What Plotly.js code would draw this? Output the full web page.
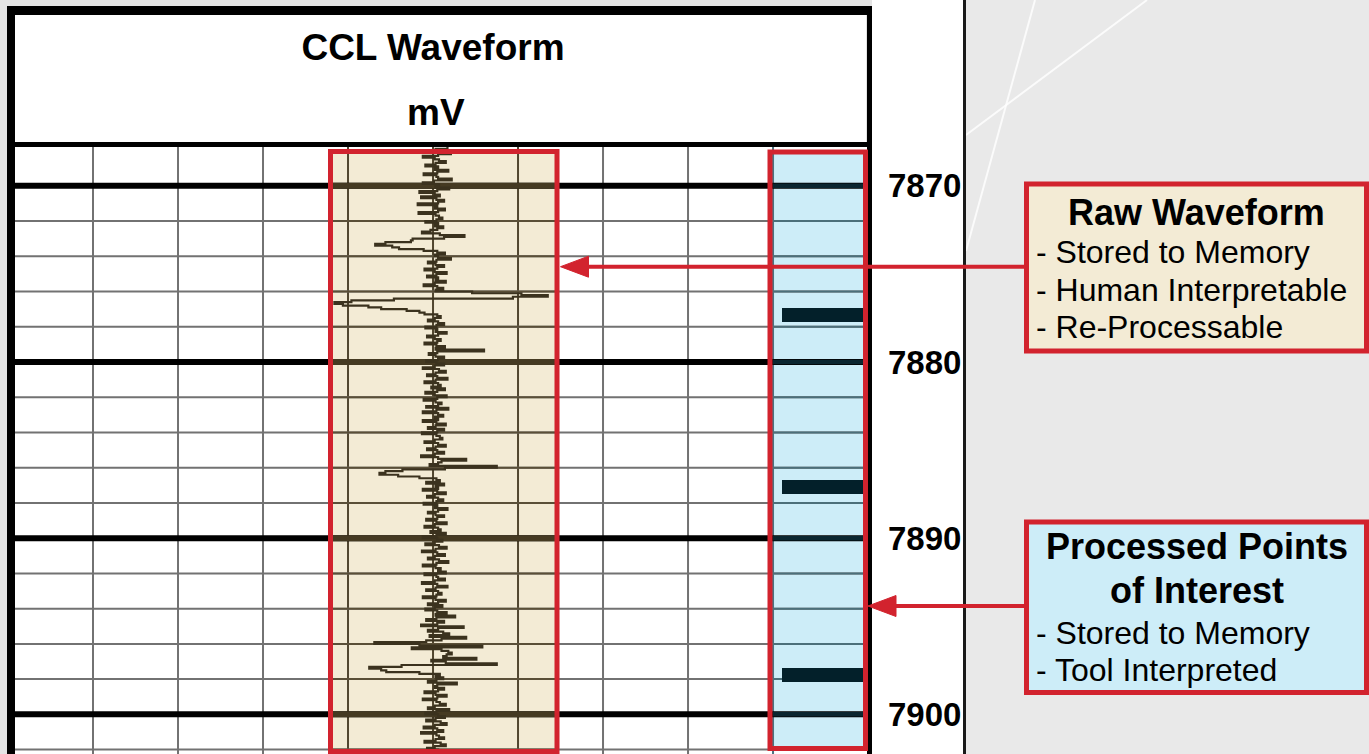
<!DOCTYPE html>
<html>
<head>
<meta charset="utf-8">
<script src="https://cdn.plot.ly/plotly-3.0.1.min.js"></script>
<style>html,body{margin:0;padding:0;background:#e4e4e4;}#chart{width:1369px;height:754px;}</style>
</head>
<body>
<div id="chart"></div>
<script>
// ---------------- data ----------------
const depthTop = 7867.8;      // ft, first CCL sample
const depthStep = 0.1;        // ft, sample interval
// CCL waveform, mV, one value per sample (read from the log)
const cclMv = [
 1.7, 0.3,
 0.5, 2.1, 0.6,-1.2, 0.2, 0.7, 1.5, 0.3,-0.9, 0.6,
 0.2, 1.8, 0.5,-1.1, 0.4, 0.6, 2.2, 0.1,-1.2, 0.7,
 0.3, 1.9, 0.5,-1.6, 0.2, 0.8,-1.4, 0.4, 1.3, 0.6,
-1.8, 0.5, 0.2, 1.4, 0.6,-1.7, 0.3, 0.7, 1.1, 0.4,
-0.9, 0.6, 0.2, 1.2, 0.5,-0.3,-1.3, 0.8, 3.7, 1.3,
-2.4,-2.6,-5.6,-6.8,-4.8,-4.0,-1.1, 0.5, 1.4, 0.2,
 0.6, 2.1, 0.4,-0.6, 0.3, 1.3, 0.5,-1.0, 0.2, 1.6,
 0.4,-0.7, 0.6, 0.3, 1.5, 0.2,-1.1, 0.5, 1.2, 0.3,
 4.6,10.4,13.5, 9.4,-4.6,-9.6,-11.6,-10.6,-7.6,-6.1,
-3.1,-1.6,-1.0, 0.5, 0.9, 0.2,-0.6, 0.6, 1.3, 0.4,
-0.9, 0.5, 0.3, 1.6, 0.6,-0.7, 0.2, 0.9, 0.5,-1.0,
 0.4, 1.4, 0.3, 6.0, 0.5,-0.5, 0.3, 1.3, 0.6,-0.8,
 0.4, 1.3, 0.2,-1.2, 0.7, 1.5, 0.3,-0.7, 0.5, 1.7,
 0.3,-1.0, 0.6, 0.9,-0.2, 1.4, 0.5,-0.9, 0.2, 1.6,
 0.5,-1.1, 0.3, 1.0, 0.6,-0.8, 1.8, 0.4,-1.2, 0.6,
 1.2, 0.2, 0.6,-1.2, 0.4, 1.5, 0.3,-0.6, 1.3, 0.5,
-1.3, 0.4, 0.8, 1.1, 0.2,-1.0, 0.6, 1.5, 0.3,-0.7,
 0.5, 1.3, 0.2,-1.4, 0.6, 3.9, 1.0, 0.6,-0.4, 7.5,
 1.4,-3.6,-5.6,-6.3,-4.1,-1.6, 0.4, 0.8,-0.8, 1.3,
 0.3, 0.6,-1.2, 0.5, 1.5, 0.2,-0.7, 0.6, 1.2, 0.4,
-1.1, 0.5, 0.2, 1.7, 0.6,-0.6, 0.3, 1.3, 0.5,-0.8,
 0.4, 1.6, 0.2,-1.0, 0.6, 0.9,-0.3, 1.5, 0.4,-1.2,
 0.5, 1.1, 0.2,-0.9, 0.7, 1.6, 0.3,-1.3, 0.5, 1.4,
 0.2,-0.6, 0.7, 1.8, 0.4,-1.2, 0.3, 0.9, 0.6, 1.5,
-1.0, 0.4, 0.6, 1.4, 0.2,-1.3, 0.5, 1.7, 0.3,-0.8,
 0.6, 1.0, 0.4,-1.2, 0.3, 1.5, 0.6,-0.6, 1.1, 0.2,
-0.9, 0.5, 1.6, 0.3, 2.6, 0.4,-0.8, 1.3, 0.5,-1.4,
 3.6, 0.6,-0.6, 1.2, 1.9,-0.4, 3.9, 1.0,-0.8,-6.9,
-1.6, 5.8,-2.5, 1.0, 1.8, 2.2, 1.6, 1.2, 5.1,-0.2,
 1.5, 7.5,-3.7,-7.5,-6.1,-5.5,-1.6, 0.8, 0.3, 1.2,
 0.4,-0.6, 2.8, 0.5, 0.2, 1.3, 0.6,-1.0, 0.3, 1.6,
 0.5,-1.2, 0.4, 0.8, 1.5, 0.2,-0.6, 1.9, 0.4,-0.9,
 0.6, 1.4, 0.3,-0.8, 0.9, 1.6, 0.2,-1.1, 0.5, 1.2,
-1.4, 0.4, 0.7, 1.3, 0.3,-1.0, 0.9, 1.5, 0.2,-0.7,
 0.6, 1.1, 0.4
];
// Processed points of interest (collar flags), depth in ft
const poiDepth = [7877.35, 7887.08, 7897.78];
const poiFlag = [1, 1, 1];
// depth track labels
const depthTicks = [7870, 7880, 7890, 7900];
const depthTickText = ['7870', '7880', '7890', '7900'];
// grid
const gridDepths = [7870,7872,7874,7876,7878,7880,7882,7884,7886,7888,7890,7892,7894,7896,7898,7900,7902];
const gridMv = [-40,-30,-20,-10,0,10,20,30,40];
// texts
const trackTitle = 'CCL Waveform';
const trackUnit = 'mV';
const rawTitle = 'Raw Waveform';
const rawLines = ['- Stored to Memory', '- Human Interpretable', '- Re-Processable'];
const poiTitle = ['Processed Points', 'of Interest'];
const poiLines = ['- Stored to Memory', '- Tool Interpreted'];

// ---------------- layout helpers ----------------
const W = 1369, H = 754;
const px = x => x / W;
const py = y => 1 - y / H;
const RED = '#d2232e';
const TAN = '#f3ebd5';
const BLUE = '#cdedf8';
const FONT = 'Liberation Sans, Arial, sans-serif';

const depth = cclMv.map((v, i) => +(depthTop + i * depthStep).toFixed(2));

function pline(x0, y0, x1, y1, color, w, layer) {
  return {type: 'line', xref: 'paper', yref: 'paper', x0: px(x0), y0: py(y0), x1: px(x1), y1: py(y1),
          line: {color: color, width: w}, layer: layer || 'above'};
}
function prect(x0, y0, x1, y1, fill, lineColor, lw, layer) {
  return {type: 'rect', xref: 'paper', yref: 'paper', x0: px(x0), y0: py(y1), x1: px(x1), y1: py(y0),
          fillcolor: fill || 'rgba(0,0,0,0)', line: {color: lineColor || 'rgba(0,0,0,0)', width: lw || 0}, layer: layer || 'above'};
}
function tri(tipX, tipY, len, half) {
  const p = `M ${px(tipX)} ${py(tipY)} L ${px(tipX + len)} ${py(tipY - half)} L ${px(tipX + len)} ${py(tipY + half)} Z`;
  return {type: 'path', xref: 'paper', yref: 'paper', path: p, fillcolor: RED, line: {color: RED, width: 1}, layer: 'above'};
}

const shapes = [];
// soft background shading on the right
shapes.push(prect(966, 0, 1369, 754, 'rgba(255,255,255,0.2)', null, 0, 'below'));
// background decorative light lines
shapes.push(pline(1035, 0, 966, 251, 'rgba(255,255,255,0.8)', 2, 'below'));
shapes.push(pline(1147, 0, 966, 135, 'rgba(255,255,255,0.8)', 2, 'below'));
// header, track and depth column
shapes.push(prect(15, 15, 866, 142, '#ffffff', null, 0, 'below'));
shapes.push(prect(8, 147, 869, 754, '#ffffff', null, 0, 'below'));
shapes.push(prect(872, 0, 963, 754, '#ffffff', null, 0, 'below'));
// highlighted tracks
shapes.push(prect(330.5, 151.5, 557, 751.5, TAN, null, 0, 'below'));
shapes.push(prect(770, 152, 865.5, 748.5, BLUE, null, 0, 'below'));
// vertical grid
const mvToPx = mv => 433 + 8.5 * mv;
gridMv.forEach(mv => {
  const p = mvToPx(mv);
  let col = '#727272';
  if (p > 331 && p < 557) col = '#51462f';
  if (p > 768) col = '#4b7380';
  shapes.push({type: 'line', xref: 'x', yref: 'paper', x0: mv, x1: mv, y0: 0, y1: py(147),
               line: {color: col, width: 2}, layer: 'below'});
});
// horizontal grid
gridDepths.forEach(d => {
  const thick = d % 10 === 0;
  shapes.push({type: 'line', xref: 'paper', yref: 'y', x0: px(15), x1: px(867), y0: d, y1: d,
               line: {color: thick ? '#000000' : '#727272', width: thick ? 6 : 2}, layer: 'below'});
  shapes.push({type: 'line', xref: 'paper', yref: 'y', x0: px(333), x1: px(555), y0: d, y1: d,
               line: {color: thick ? '#453a22' : '#5a4f37', width: thick ? 6 : 2}, layer: 'below'});
  shapes.push({type: 'line', xref: 'paper', yref: 'y', x0: px(773), x1: px(864), y0: d, y1: d,
               line: {color: thick ? '#0a2630' : '#4b6f7a', width: thick ? 4.5 : 2}, layer: 'below'});
});
// frame
shapes.push(pline(11, 6, 11, 754, '#000', 8));
shapes.push(pline(7, 10.5, 872, 10.5, '#000', 9));
shapes.push(pline(8, 144.5, 869, 144.5, '#000', 5));
shapes.push(pline(869.5, 6, 869.5, 754, '#000', 5));
shapes.push(pline(964.5, 0, 964.5, 754, '#1a1a1a', 3));
// red highlight boxes
shapes.push(prect(330.5, 151.5, 557, 751.5, null, RED, 5));
shapes.push(prect(770, 152, 865.5, 748.5, null, RED, 5));
// callout boxes
shapes.push(prect(1026.5, 184, 1366.5, 351, TAN, RED, 5));
shapes.push(prect(1026.5, 522, 1366.5, 692.5, BLUE, RED, 5));
// arrows
shapes.push(pline(1025, 266.7, 585, 266.7, RED, 4));
shapes.push(tri(560.5, 266.7, 28, 10.5));
shapes.push(pline(1025, 606, 893, 606, RED, 4));
shapes.push(tri(868, 606, 28, 10.5));

const ann = [];
function txt(text, x, y, size, bold, anchor) {
  ann.push({text: text, xref: 'paper', yref: 'paper', x: px(x), y: py(y), xanchor: anchor || 'center', yanchor: 'middle',
            showarrow: false, font: {family: FONT, size: size, color: '#000', weight: bold ? 700 : 400}});
}
txt(trackUnit, 436, 112, 37, true);
txt(rawTitle, 1196.5, 212, 36, true);
rawLines.forEach((t, i) => txt(t, 1034, [251.5, 289.5, 327][i], 32, false, 'left'));
poiTitle.forEach((t, i) => txt(t, 1197, [546.5, 590][i], 36, true));
poiLines.forEach((t, i) => txt(t, 1034, [633, 670][i], 32, false, 'left'));

const traces = [
  {type: 'scatter', mode: 'lines', x: cclMv, y: depth, xaxis: 'x', yaxis: 'y',
   line: {color: '#3b321e', width: 2.2, shape: 'vh'}, hoverinfo: 'skip', showlegend: false},
  {type: 'bar', orientation: 'h', x: poiFlag, y: poiDepth, xaxis: 'x2', yaxis: 'y', width: 0.8,
   marker: {color: '#03202a', line: {width: 0}}, hoverinfo: 'skip', showlegend: false}
];

const layout = {
  width: W, height: H,
  margin: {l: 0, r: 0, t: 0, b: 0, pad: 0},
  paper_bgcolor: '#e4e4e4',
  plot_bgcolor: 'rgba(0,0,0,0)',
  showlegend: false,
  title: {text: trackTitle, x: px(433), xanchor: 'center', xref: 'paper', y: py(47), yref: 'paper', yanchor: 'middle',
          font: {family: FONT, size: 37, color: '#000', weight: 700}},
  xaxis: {domain: [px(8), px(869)], range: [-50, 51.29], showgrid: false, zeroline: false, showticklabels: false,
          ticks: '', showline: false, fixedrange: true},
  xaxis2: {domain: [px(782), px(863)], range: [0, 1], anchor: 'y', showgrid: false, zeroline: false,
           showticklabels: false, ticks: '', showline: false, fixedrange: true},
  yaxis: {domain: [0, py(147)], range: [7902.25, 7867.8], side: 'right', anchor: 'x', showgrid: false, zeroline: false,
          showline: false, ticks: '', tickmode: 'array', tickvals: depthTicks, ticktext: depthTickText,
          ticklabelstandoff: 18, automargin: false,
          tickfont: {family: FONT, size: 33, color: '#000', weight: 700}, fixedrange: true},
  shapes: shapes,
  annotations: ann,
  bargap: 0
};

Plotly.newPlot('chart', traces, layout, {displayModeBar: false, staticPlot: true});
</script>
</body>
</html>
